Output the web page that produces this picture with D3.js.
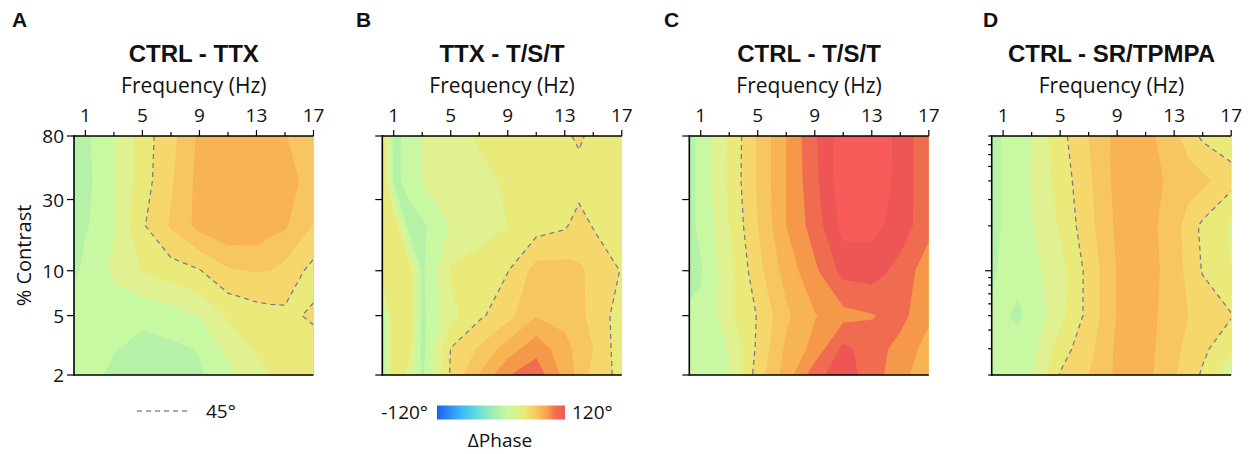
<!DOCTYPE html>
<html><head><meta charset="utf-8">
<script src="https://cdn.jsdelivr.net/npm/d3@7"></script>
<style>
body{margin:0;background:#fff}
svg{display:block}
text{font-family:"Open Sans","Noto Sans","DejaVu Sans",sans-serif;fill:#111}
.bold{font-family:"Liberation Sans",Arial,sans-serif;font-weight:bold}
</style>
</head><body><svg id="chart" width="1253" height="454"></svg>
<script>
// ---------------- data ----------------
const frequencies = [0.2, 1, 2, 3, 5, 7, 9, 11, 13, 14, 15, 17];   // grid columns (Hz)
const contrasts = [80, 40, 20, 10, 5, 3, 2];                      // grid rows (% contrast), top to bottom
const xTickLabels = [1, 5, 9, 13, 17];
const xMinorTicks = [3, 7, 11, 15];
const yTickValues = [80, 30, 10, 5, 2];
const yMinorTicksD = [2, 3, 4, 5, 6, 7, 8, 9, 20, 30, 40, 50, 60, 70, 80];
const yMajorTicksD = [10];
const panelLetters = ["A", "B", "C", "D"];
const panelTitles = ["CTRL - TTX", "TTX - T/S/T", "CTRL - T/S/T", "CTRL - SR/TPMPA"];

// ΔPhase (deg), rows = contrasts, cols = frequencies
const phaseA = [
  [-8, -3, 5, 14, 38, 55, 78, 85, 84, 78, 76, 62],
  [-8, -4, 4, 14, 38, 58, 80, 88, 88, 84, 80, 70],
  [-6, -1, 3, 14, 43, 62, 80, 88, 86, 80, 77, 59.5],
  [-3, 3, 12, 17, 31, 38, 44, 58, 61, 60, 55, 40],
  [8, 12, 15.5, 10, 3, 8, 15, 32, 38, 40, 42, 47],
  [5, 6, 4, 1, -4, -3, 1, 20, 32, 34, 37, 40],
  [6, 5, 1, -3, -6, -5, -2, 10, 24, 30, 34, 38]
];
const phaseB = [
  [44, -5, 5, 15, 24, 32, 35, 38, 42, 48, 40, 36],
  [44, -3, 3, 16, 22, 26, 32, 36, 40, 38, 36, 35],
  [44, 42, -5, -3, 16, 22, 30, 38, 43, 52, 44, 38],
  [44, 44, 43, -3, 32, 38, 44.5, 66, 66, 62, 57, 44],
  [-5, 44, 43, -4, 25, 42, 55, 74, 70, 64, 55, 38],
  [-8, 44, 40, -6, 45.5, 62, 82, 100, 80, 70, 60, 36],
  [-5, 44, 25, -3, 47, 76, 104, 114, 85, 70, 55, 40]
];
const phaseC = [
  [-5, 5, 18, 32, 62, 90, 118, 144, 144, 138, 131, 107],
  [-5, 5, 18, 33, 62, 90, 116, 145, 145, 138, 130, 108],
  [-5, 4, 16, 30, 60, 90, 112, 140, 140, 134, 128, 110],
  [-4, -2, 12, 25, 55, 81, 102, 125, 127, 121, 115, 96],
  [2, 4, 12, 27, 46, 72, 89, 100, 104, 107, 110, 93],
  [3, 6, 11, 16, 48, 78, 95, 124, 112, 106, 100, 84],
  [4, 6, 10, 14, 52, 82, 114, 130, 111, 104, 96, 78]
];
const phaseD = [
  [-4, 1, 8, 15, 40, 60, 80, 80, 65, 52, 42, 38],
  [-4, 1, 8, 16, 36, 57, 80, 80, 72, 68, 64, 50],
  [-4, 1, 7, 14, 32, 55, 78, 80, 68, 52, 42, 28],
  [-2, 2, 5, 10, 24, 50, 76, 80, 70, 54, 44, 30],
  [2, 3, -3, 4, 25, 50, 76, 80, 68, 60, 54, 46],
  [4, 5, 7, 10, 38, 55, 78, 80, 65, 55, 48, 35],
  [5, 6, 8, 12, 46, 60, 78, 80, 62, 52, 43, 12]
];
const contourLevels = d3.range(-135, 136, 15);
const dashedLevel = 45;
const colorbarLabels = ["-120°", "120°"];
const legendLabel = "45°";

// ---------------- style ----------------
const bandColors = ["#1560ec","#1a66f0","#2a8ef6","#38b0fa","#50c8f0","#68dcdc","#80e6c8","#98ecb4",
  "#b5f2a8","#c9f8a2","#dff190","#e9ea7a","#f5d76c","#f8c660","#f8b352","#f6984a","#f06c50","#ee5656","#f95b59"];
const colorbarStops = [[0,"#1a62ee"],[0.08,"#2a86f4"],[0.2,"#3cbcf8"],[0.33,"#6ee0d8"],[0.45,"#a4eeae"],
  [0.55,"#c8f8a0"],[0.68,"#e8ea78"],[0.78,"#f8c462"],[0.86,"#f8a048"],[0.93,"#f06c50"],[1,"#f45858"]];
const panelLefts = [74, 382.3, 689.3, 991.7];
const letterX = [12, 356, 664, 983];
const plotW = 239.5, plotTop = 136, plotBottom = 375;
const panelData = [phaseA, phaseB, phaseC, phaseD];

const svg = d3.select("#chart");
const defs = svg.append("defs");
const nx = frequencies.length, ny = contrasts.length;
const logC = contrasts.map(Math.log10);
function interp(c, arr) {
  const n = arr.length;
  if (c <= 0.5) return arr[0];
  if (c >= n - 0.5) return arr[n - 1];
  const i = Math.floor(c - 0.5), t = c - 0.5 - i;
  return arr[i] + (arr[i + 1] - arr[i]) * t;
}
const bandColor = v => bandColors[Math.max(0, Math.min(bandColors.length - 1, Math.round((v + 135) / 15)))];

panelData.forEach((grid, p) => {
  const left = panelLefts[p];
  const x = d3.scaleLinear().domain([0.2, 17]).range([left, left + plotW]);
  const y = d3.scaleLog().domain([2, 80]).range([plotBottom, plotTop]);
  const values = grid.flat();
  const proj = pt => [x(interp(pt[0], frequencies)), y(Math.pow(10, interp(pt[1], logC)))];
  const ringPath = ring => "M" + ring.map(pt => proj(pt).map(v => v.toFixed(2)).join(",")).join("L") + "Z";

  const clipId = "clip" + p;
  defs.append("clipPath").attr("id", clipId).append("rect")
    .attr("x", left).attr("y", plotTop).attr("width", plotW).attr("height", plotBottom - plotTop);
  const g = svg.append("g").attr("clip-path", `url(#${clipId})`);

  const cs = d3.contours().size([nx, ny]).thresholds(contourLevels)(values);
  g.selectAll("path.band").data(cs).join("path").attr("class", "band")
    .attr("d", c => c.coordinates.map(poly => poly.map(ringPath).join("")).join(""))
    .attr("fill", c => bandColor(c.value)).attr("fill-rule", "evenodd");

  // dashed 45° contour (without plot-border segments)
  const c45 = d3.contours().size([nx, ny]).thresholds([dashedLevel])(values)[0];
  let d = "";
  const onB = (a, b) => (a[0] <= 0.5 && b[0] <= 0.5) || (a[0] >= nx - 0.5 && b[0] >= nx - 0.5) ||
                        (a[1] <= 0.5 && b[1] <= 0.5) || (a[1] >= ny - 0.5 && b[1] >= ny - 0.5);
  c45.coordinates.forEach(poly => poly.forEach(ring => {
    let pen = false;
    for (let k = 0; k < ring.length - 1; k++) {
      const a = ring[k], b = ring[k + 1];
      if (onB(a, b)) { pen = false; continue; }
      const pa = proj(a), pb = proj(b);
      if (!pen) { d += "M" + pa[0].toFixed(2) + "," + pa[1].toFixed(2); pen = true; }
      d += "L" + pb[0].toFixed(2) + "," + pb[1].toFixed(2);
    }
  }));
  g.append("path").attr("d", d).attr("fill", "none").attr("stroke", "#7c7c92")
    .attr("stroke-width", 1.3).attr("stroke-dasharray", "5,4");

  // frame
  const fr = svg.append("g").attr("stroke", "#000").attr("stroke-width", 1.6).attr("fill", "none");
  fr.append("line").attr("x1", left).attr("x2", left).attr("y1", plotTop - 0.8).attr("y2", plotBottom + 0.8);
  fr.append("line").attr("x1", left).attr("x2", left + plotW).attr("y1", plotTop).attr("y2", plotTop);
  fr.append("line").attr("x1", left).attr("x2", left + plotW).attr("y1", plotBottom).attr("y2", plotBottom);

  // x axis (top)
  const xa = svg.append("g");
  xa.selectAll("line.maj").data(xTickLabels).join("line")
    .attr("x1", v => x(v)).attr("x2", v => x(v)).attr("y1", plotTop).attr("y2", plotTop - 6)
    .attr("stroke", "#000").attr("stroke-width", 1.2);
  xa.selectAll("line.min").data(xMinorTicks).join("line")
    .attr("x1", v => x(v)).attr("x2", v => x(v)).attr("y1", plotTop).attr("y2", plotTop - 4)
    .attr("stroke", "#000").attr("stroke-width", 1.2);
  xa.selectAll("text").data(xTickLabels).join("text")
    .attr("x", v => x(v)).attr("y", 122).attr("text-anchor", "middle").attr("font-size", 19).text(v => v);
  svg.append("text").attr("x", left + plotW / 2).attr("y", 93).attr("text-anchor", "middle")
    .attr("font-size", 21).text("Frequency (Hz)");

  // y axis
  const ya = svg.append("g");
  if (p < 3) {
    ya.selectAll("line").data(yTickValues).join("line")
      .attr("x1", left - 7).attr("x2", left).attr("y1", v => y(v)).attr("y2", v => y(v))
      .attr("stroke", "#000").attr("stroke-width", 1.2);
  } else {
    ya.selectAll("line.min").data(yMinorTicksD).join("line")
      .attr("x1", left - 3.5).attr("x2", left).attr("y1", v => y(v)).attr("y2", v => y(v))
      .attr("stroke", "#000").attr("stroke-width", 1.2);
    ya.selectAll("line.maj").data(yMajorTicksD).join("line")
      .attr("x1", left - 6.5).attr("x2", left).attr("y1", v => y(v)).attr("y2", v => y(v))
      .attr("stroke", "#000").attr("stroke-width", 1.2);
  }
  if (p === 0) {
    ya.selectAll("text").data(yTickValues).join("text")
      .attr("x", left - 10).attr("y", v => y(v) + 7).attr("text-anchor", "end").attr("font-size", 19).text(v => v);
    svg.append("text").attr("transform", `translate(31,${(plotTop + plotBottom) / 2}) rotate(-90)`)
      .attr("text-anchor", "middle").attr("font-size", 20).text("% Contrast");
  }

  // titles
  svg.append("text").attr("class", "bold").attr("x", letterX[p]).attr("y", 27).attr("font-size", 21).text(panelLetters[p]);
  svg.append("text").attr("class", "bold").attr("x", left + plotW / 2).attr("y", 62)
    .attr("text-anchor", "middle").attr("font-size", 24).text(panelTitles[p]);
});

// legend: dashed line
svg.append("line").attr("x1", 137).attr("x2", 190).attr("y1", 411).attr("y2", 411)
  .attr("stroke", "#8a8a98").attr("stroke-width", 1.5).attr("stroke-dasharray", "5,4");
svg.append("text").attr("x", 206).attr("y", 418).attr("font-size", 19).text(legendLabel);

// colorbar
const grad = defs.append("linearGradient").attr("id", "cbar");
colorbarStops.forEach(s => grad.append("stop").attr("offset", s[0]).attr("stop-color", s[1]));
svg.append("rect").attr("x", 437).attr("y", 405.5).attr("width", 128).attr("height", 14).attr("fill", "url(#cbar)");
svg.append("text").attr("x", 428).attr("y", 419).attr("text-anchor", "end").attr("font-size", 19).text(colorbarLabels[0]);
svg.append("text").attr("x", 572).attr("y", 419).attr("font-size", 19).text(colorbarLabels[1]);
svg.append("text").attr("x", 500).attr("y", 447).attr("text-anchor", "middle").attr("font-size", 19).text("ΔPhase");
</script>
</body></html>
